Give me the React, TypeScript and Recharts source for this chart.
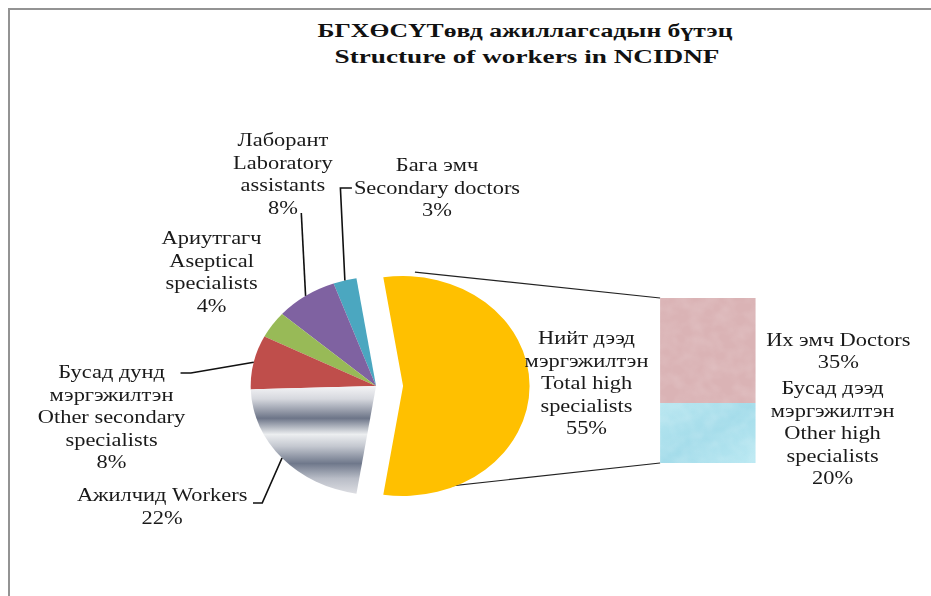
import React from 'react';
import { PieChart, Pie, Cell, BarChart, Bar, XAxis, YAxis } from 'recharts';

// the reference is a bit stretched sideways, so draw at 810 wide and scale
const STRETCH = 1.15;
const W = 810;
const H = 596;

const sliceNames = [
  'Нийт дээд мэргэжилтэн Total high specialists',
  'Бага эмч Secondary doctors',
  'Лаборант Laboratory assistants',
  'Ариутгагч Aseptical specialists',
  'Бусад дунд мэргэжилтэн Other secondary specialists',
  'Ажилчид Workers',
];
const sliceValues = [55, 3, 8, 4, 8, 22];
const sliceLabelLines = [
  ['Нийт дээд', 'мэргэжилтэн', 'Total high', 'specialists'],
  ['Бага эмч', 'Secondary doctors'],
  ['Лаборант', 'Laboratory', 'assistants'],
  ['Ариутгагч', 'Aseptical', 'specialists'],
  ['Бусад дунд', 'мэргэжилтэн', 'Other secondary', 'specialists'],
  ['Ажилчид Workers'],
];

const barCategory = ['Нийт дээд мэргэжилтэн'];
const barOtherHigh = [20];
const barDoctors = [35];
const doctorsLabel = ['Их эмч Doctors'];
const otherHighLabel = ['Бусад дээд', 'мэргэжилтэн', 'Other high', 'specialists'];

const sliceColors = ['#FFC000', '#4BA7C0', '#7F62A1', '#98BA57', '#BF4E4B', 'url(#workersGrad)'];

const pieData = sliceNames.map((name, i) => ({ name, value: sliceValues[i] }));
const barData = barCategory.map((name, i) => ({ name, other: barOtherHigh[i], doctors: barDoctors[i] }));

// pie geometry (inner, unstretched coords)
const PIE_CX = 322;
const PIE_CY = 381;
const PIE_R = 109;
const EXPLODE = 23.5;
const CONNECT_ANGLE = 82;

const FONT = '"Liberation Serif", "Times New Roman", serif';
const LINE_H = 22.5;
const RAD = Math.PI / 180;

// where each slice label sits, plus leader bends
const labelLayout: { x: number; y: number; leader: number[][] | null }[] = [
  { x: 510, y: 338, leader: null },
  { x: 380, y: 165, leader: [[296, 188], [306, 188]] },
  { x: 246, y: 140, leader: [[262, 213]] },
  { x: 184, y: 238, leader: null },
  { x: 97, y: 372, leader: [[166, 373], [157, 373]] },
  { x: 141, y: 495, leader: [[228, 503], [220, 503]] },
];

const textStyle = { fontFamily: FONT, fontSize: 19.5, fill: '#1a1a1a' };

function Lines({ x, y, lines }: { x: number; y: number; lines: string[] }) {
  return (
    <text x={x} y={y} textAnchor="middle" dominantBaseline="central" style={textStyle}>
      {lines.map((l, i) => (
        <tspan key={i} x={x} y={y + i * LINE_H}>{l}</tspan>
      ))}
    </text>
  );
}

const renderSliceLabel = (props: any) => {
  const { cx, cy, midAngle, outerRadius, index, value } = props;
  const lay = labelLayout[index];
  const ex = cx + outerRadius * Math.cos(-midAngle * RAD);
  const ey = cy + outerRadius * Math.sin(-midAngle * RAD);
  let d = '';
  if (lay.leader) {
    d = `M${ex},${ey}` + lay.leader.map((p) => ` L${p[0]},${p[1]}`).join('');
  }
  return (
    <g key={'lbl' + index}>
      {d && <path d={d} stroke="#111" strokeWidth={1.4} fill="none" />}
      <Lines x={lay.x} y={lay.y} lines={[...sliceLabelLines[index], `${value}%`]} />
    </g>
  );
};

const connectorStart = (sign: number) => ({
  x: PIE_CX + EXPLODE + (PIE_R + 1) * Math.cos(CONNECT_ANGLE * RAD),
  y: PIE_CY - sign * (PIE_R + 1) * Math.sin(CONNECT_ANGLE * RAD),
});

const OtherShape = (props: any) => {
  const { x, y, width, height } = props;
  const s = connectorStart(-1);
  return (
    <g>
      <line x1={s.x} y1={s.y} x2={x} y2={y + height} stroke="#222" strokeWidth={1.2} />
      <rect x={x} y={y} width={width} height={height} fill="url(#otherGrad)" />
      <rect x={x} y={y} width={width} height={height} fill="#fff" opacity={0.25} filter="url(#noise)" />
    </g>
  );
};

const DoctorsShape = (props: any) => {
  const { x, y, width, height } = props;
  const s = connectorStart(1);
  return (
    <g>
      <line x1={s.x} y1={s.y} x2={x} y2={y} stroke="#222" strokeWidth={1.2} />
      <rect x={x} y={y} width={width} height={height} fill="#DAB3B5" />
      <rect x={x} y={y} width={width} height={height} fill="#fff" opacity={0.2} filter="url(#noise)" />
    </g>
  );
};

// label for a stacked segment: value read from its own series, not the stack top
const barLabel = (lines: string[], values: number[], offsetX: number) => (p: any) => {
  const { x, y, width, height, index } = p;
  const v = values[index ?? 0];
  const all = [...lines, `${v}%`];
  const cy = y + height / 2 - ((all.length - 1) * LINE_H) / 2;
  return <Lines key={'bl' + lines[0]} x={x + width + offsetX} y={cy} lines={all} />;
};

export default function App() {
  return (
    <div style={{ position: 'absolute', left: 0, top: 0, width: 931, height: 596, overflow: 'hidden', background: '#fff' }}>
      <div style={{ position: 'absolute', left: 8, top: 8, width: 960, height: 620, borderLeft: '2.5px solid #939393', borderTop: '2.5px solid #939393' }} />
      <svg width={931} height={80} style={{ position: 'absolute', left: 0, top: 0 }}>
        <text x={525} y={31} textAnchor="middle" dominantBaseline="central" textLength={415} lengthAdjust="spacingAndGlyphs"
          style={{ fontFamily: FONT, fontSize: 18.5, fontWeight: 'bold', fill: '#111' }}>
          БГХӨСҮТөвд ажиллагсадын бүтэц
        </text>
        <text x={527} y={57} textAnchor="middle" dominantBaseline="central" textLength={385} lengthAdjust="spacingAndGlyphs"
          style={{ fontFamily: FONT, fontSize: 18.5, fontWeight: 'bold', fill: '#111' }}>
          Structure of workers in NCIDNF
        </text>
      </svg>
      <div style={{ position: 'absolute', left: 0, top: 0, width: W, height: H, transform: `scaleX(${STRETCH})`, transformOrigin: '0 0' }}>
        <div style={{ position: 'absolute', left: 0, top: 0 }}>
          <BarChart width={W} height={H} data={barData} barCategoryGap={0}
            margin={{ top: 298, bottom: 133, left: 574, right: W - 656.5 }}>
            <defs>
              <linearGradient id="otherGrad" x1="0" y1="0" x2="1" y2="1">
                <stop offset="0" stopColor="#b7e6f0" />
                <stop offset="0.5" stopColor="#a4dcea" />
                <stop offset="1" stopColor="#b9e8f2" />
              </linearGradient>
              <filter id="noise" x="0" y="0" width="1" height="1">
                <feTurbulence type="fractalNoise" baseFrequency="0.08" numOctaves={2} seed={3} />
                <feColorMatrix type="matrix" values="0 0 0 0 1  0 0 0 0 1  0 0 0 0 1  0 0 0 1.2 -0.4" />
              </filter>
            </defs>
            <XAxis dataKey="name" hide />
            <YAxis hide domain={[0, 55]} />
            <Bar dataKey="other" stackId="hi" isAnimationActive={false} shape={OtherShape} label={barLabel(otherHighLabel, barOtherHigh, 67)} />
            <Bar dataKey="doctors" stackId="hi" isAnimationActive={false} shape={DoctorsShape} label={barLabel(doctorsLabel, barDoctors, 72)} />
          </BarChart>
        </div>
        <div style={{ position: 'absolute', left: 0, top: 0 }}>
          <PieChart width={W} height={H}>
            <defs>
              <linearGradient id="workersGrad" x1="0" y1="0" x2="0" y2="1">
                <stop offset="0" stopColor="#f4f4f6" />
                <stop offset="0.12" stopColor="#d6d8de" />
                <stop offset="0.3" stopColor="#6d7588" />
                <stop offset="0.45" stopColor="#eceef0" />
                <stop offset="0.56" stopColor="#c4c8d0" />
                <stop offset="0.72" stopColor="#6f788b" />
                <stop offset="0.86" stopColor="#b9bdc7" />
                <stop offset="1" stopColor="#dcdde2" />
              </linearGradient>
            </defs>
            <Pie data={pieData} dataKey="value" nameKey="name" cx={PIE_CX} cy={PIE_CY} outerRadius={PIE_R}
              startAngle={-99} endAngle={261} stroke="none" isAnimationActive={false}
              label={renderSliceLabel} labelLine={false}>
              {pieData.map((d, i) => (
                <Cell key={d.name} fill={i === 0 ? 'none' : sliceColors[i]} stroke="none" />
              ))}
            </Pie>
            <Pie data={pieData} dataKey="value" nameKey="name" cx={PIE_CX + EXPLODE} cy={PIE_CY} outerRadius={PIE_R + 1}
              startAngle={-99} endAngle={261} stroke="none" isAnimationActive={false} label={false} labelLine={false}>
              {pieData.map((d, i) => (
                <Cell key={d.name} fill={i === 0 ? sliceColors[0] : 'none'} stroke="none" />
              ))}
            </Pie>
          </PieChart>
        </div>
      </div>
    </div>
  );
}
